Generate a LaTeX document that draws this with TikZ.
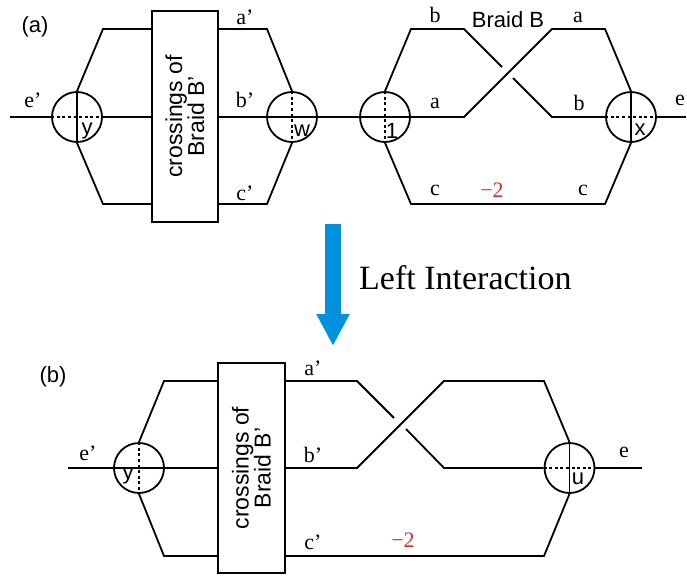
\documentclass[tikz,border=0pt]{standalone}
\usepackage{fontspec}
\setmainfont{Liberation Serif}
\setsansfont{Liberation Sans}
\usepackage{xcolor}
\usetikzlibrary{calc,arrows.meta,positioning}
\definecolor{arrowblue}{RGB}{0,146,222}
\definecolor{minusred}{RGB}{228,40,40}

\tikzset{
    strand/.style={line width=1.8pt},
    dots/.style={line width=1.6pt, dash pattern=on 3pt off 2.6pt},
    knot/.style={circle, draw, line width=1.8pt, minimum size=50pt, inner sep=0pt},
    crossbox/.style={draw, line width=1.8pt, minimum width=66pt, minimum height=211pt, inner sep=0pt},
    lbl/.style={font=\fontsize{22}{24}\selectfont, inner sep=0pt},
    sflbl/.style={font=\sffamily\fontsize{22}{24}\selectfont, inner sep=0pt}
}

\begin{document}
\begin{tikzpicture}[x=1pt, y=-1pt]
\useasboundingbox (0,0) rectangle (687,575);

% Panel (a)
\node[sflbl] at (35,27) {(a)};

% Left part: knot y, box, knot w
\node[knot] (ya) at (77,117) {};
\node[crossbox] (boxa) at (185,116.5) {};
\node[sflbl, rotate=90, align=center, font=\sffamily\fontsize{23}{22}\selectfont] at (boxa.center) {crossings of\\Braid B’};
\node[knot] (wa) at (292,117) {};

\draw[strand] (10,117) -- (ya.west);
\draw[dots] (ya.west) -- (ya.east);
\draw[strand] (ya.north) -- (ya.south);
\draw[strand] (ya.east) -- (boxa.west |- ya.east);
\draw[strand] (ya.north) -- (103,29) -- (boxa.west |- 0,29);
\draw[strand] (ya.south) -- (103,204) -- (boxa.west |- 0,204);
\draw[strand] (boxa.east |- 0,29) -- (267,29) -- (wa.north);
\draw[strand] (boxa.east |- wa.west) -- (wa.west) -- (wa.east);
\draw[strand] (boxa.east |- 0,204) -- (267,204) -- (wa.south);
\draw[dots] (wa.north) -- (wa.south);

% Right part: Braid B between knot 1 and knot x
\node[knot] (onea) at (385,117) {};
\node[knot] (xa) at (631,117) {};

\draw[strand] (wa.east) -- (onea.west) -- (onea.east);
\draw[dots] (onea.north) -- (onea.south);
\draw[strand] (onea.north) -- (411,29) -- (464,29) -- (502,67);
\draw[strand] (513,78) -- (552,117) -- (xa.west);
\draw[strand] (onea.east) -- (464,117) -- (552,29) -- (605,29) -- (xa.north);
\draw[strand] (onea.south) -- (411,204) -- (605,204) -- (xa.south);
\draw[strand] (xa.north) -- (xa.south);
\draw[dots] (xa.west) -- (xa.east);
\draw[strand] (xa.east) -- (686,117);

% Labels (a)
\node[lbl] at (33,100) {e’};
\node[sflbl] at (87,131) {y};
\node[lbl] at (245,17) {a’};
\node[lbl] at (245,100) {b’};
\node[lbl] at (245,193) {c’};
\node[sflbl] at (302,131) {w};
\node[sflbl] at (392,131) {1};
\node[sflbl] at (640,130) {x};
\node[lbl] at (435,15) {b};
\node[sflbl, font=\sffamily\fontsize{22}{24}\selectfont] at (508,20) {Braid B};
\node[lbl] at (578,17) {a};
\node[lbl] at (435,103) {a};
\node[lbl] at (579,103) {b};
\node[lbl] at (680,100) {e};
\node[lbl] at (435,190) {c};
\node[lbl, minusred] at (492,190) {−2};
\node[lbl] at (583,190) {c};

% Arrow between panels
\coordinate (arrtop) at (333,224);
\coordinate (arrtip) at (333,346);
\draw[arrowblue, line width=16pt, -{Triangle[width=31pt, length=32pt]}] (arrtop) -- (arrtip);
\node[lbl, anchor=base west, font=\fontsize{34}{36}\selectfont] at (359,289) {Left Interaction};

% Panel (b)
\node[sflbl] at (53,377) {(b)};

\node[knot] (yb) at (139,468) {};
\node[crossbox, minimum width=67pt, minimum height=210pt] (boxb) at (251.5,468) {};
\node[sflbl, rotate=90, align=center, font=\sffamily\fontsize{23}{22}\selectfont] at (boxb.center) {crossings of\\Braid B’};
\node[knot] (ub) at (569.5,468) {};

\draw[strand] (68,468) -- (yb.west) -- (yb.east) -- (boxb.west |- yb.east);
\draw[dots] (yb.north) -- (yb.south);
\draw[strand] (yb.north) -- (164,381) -- (boxb.west |- 0,381);
\draw[strand] (yb.south) -- (164,556) -- (boxb.west |- 0,556);

\draw[strand] (boxb.east |- 0,381) -- (357,381) -- (394,418);
\draw[strand] (406,429) -- (444,468) -- (ub.west);
\draw[strand] (boxb.east |- ub.west) -- (357,468) -- (444,381) -- (544,381) -- (ub.north);
\draw[strand] (boxb.east |- 0,556) -- (544,556) -- (ub.south);
\draw[strand] (ub.north) -- (ub.south);
\draw[dots] (ub.west) -- (ub.east);
\draw[strand] (ub.east) -- (642,468);

% Labels (b)
\node[lbl] at (88,453) {e’};
\node[sflbl] at (128,476) {y};
\node[lbl] at (313,368) {a’};
\node[lbl] at (313,455) {b’};
\node[lbl] at (313,542) {c’};
\node[lbl, minusred] at (403,540) {−2};
\node[sflbl] at (578,479) {u};
\node[lbl] at (624,452) {e};

\end{tikzpicture}
\end{document}
